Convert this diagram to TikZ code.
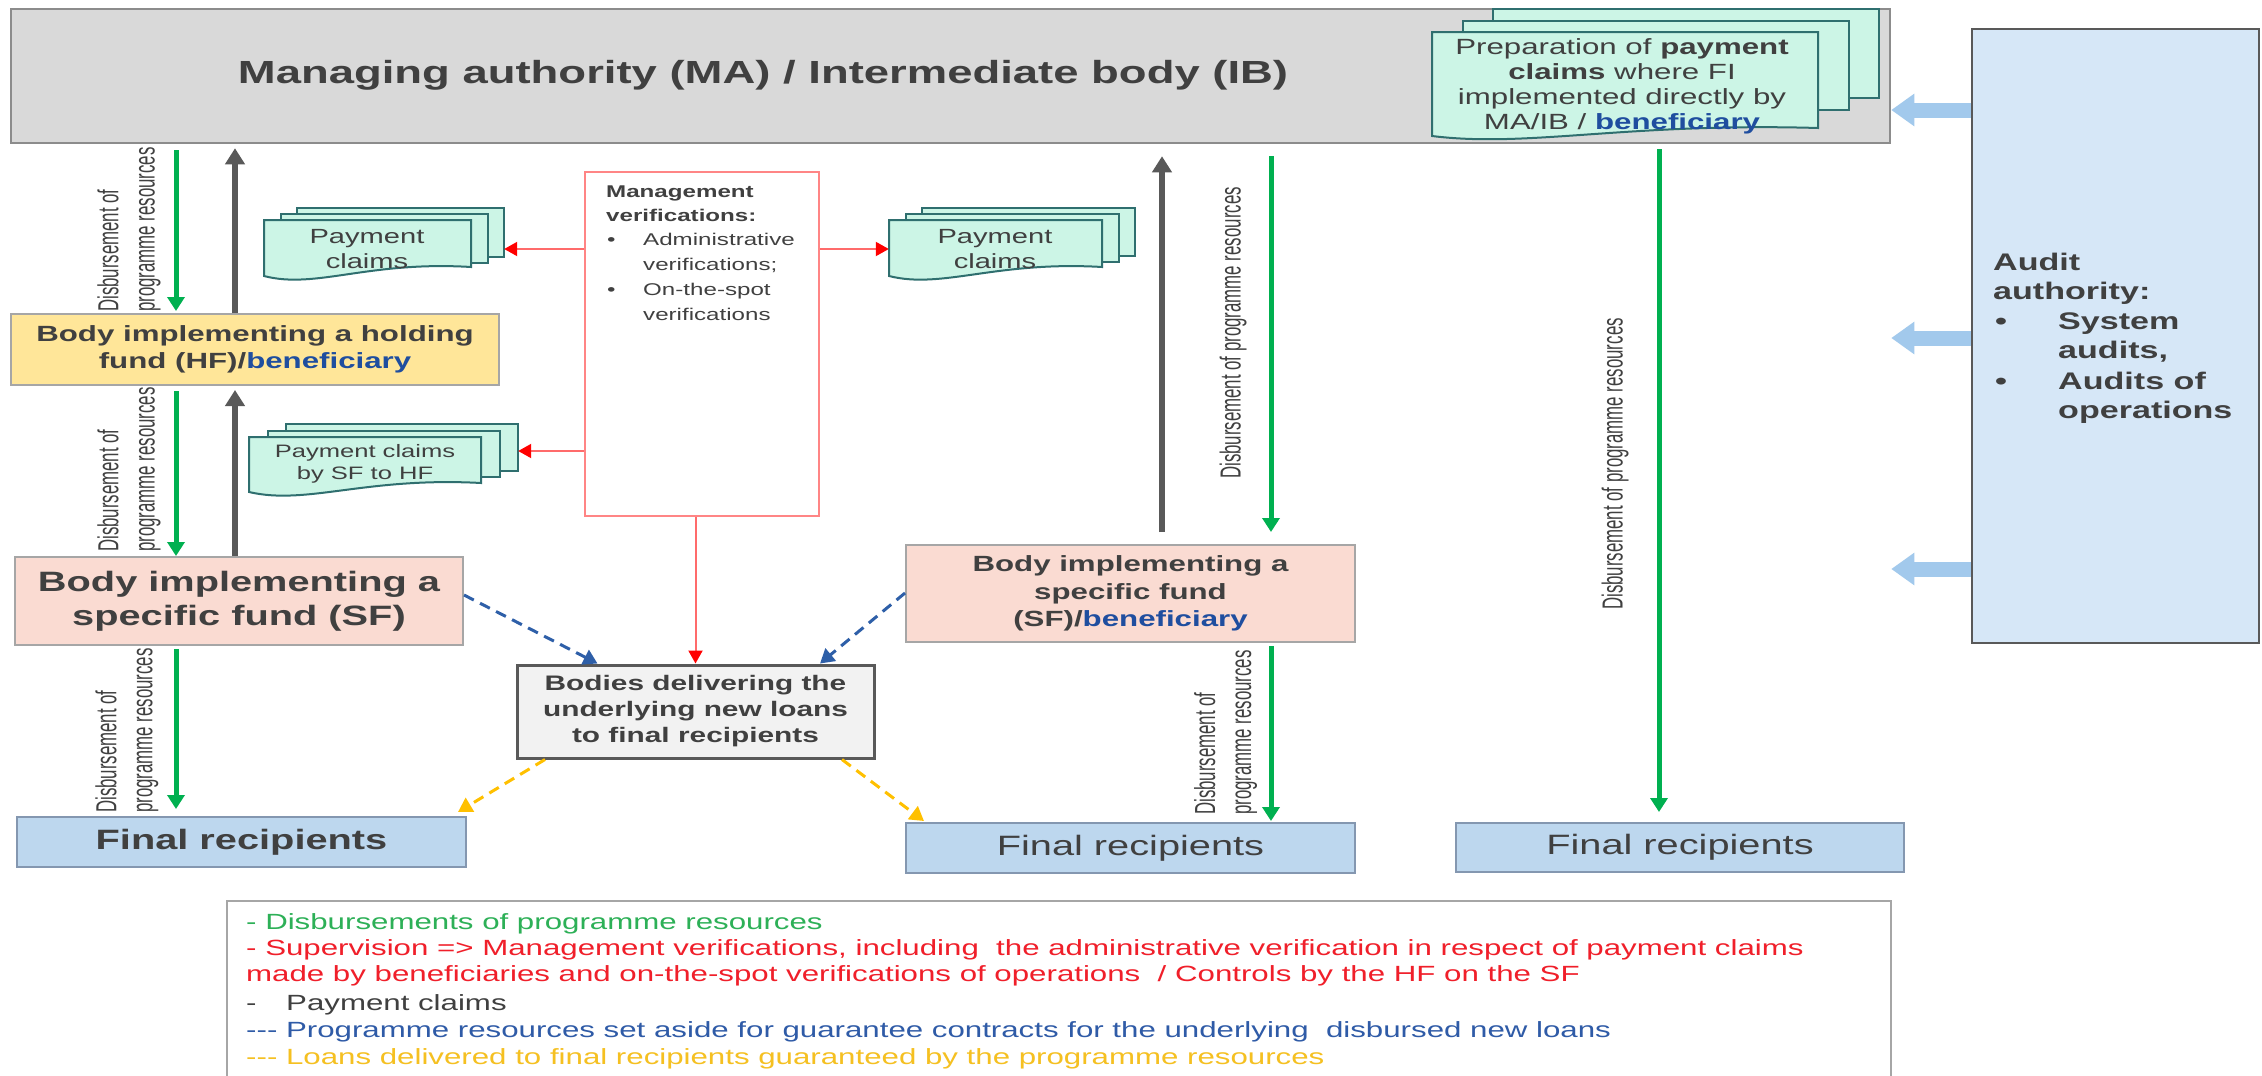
\documentclass[tikz,border=0pt]{standalone}
\usepackage{fontspec}
\setmainfont{Liberation Sans}[FakeStretch=1.42]
\newfontfamily\rotfont{Liberation Sans}[FakeStretch=0.58]
\usetikzlibrary{arrows.meta,fit}
\definecolor{tg}{HTML}{404040}
\definecolor{magray}{HTML}{D9D9D9}
\definecolor{maedge}{HTML}{8C8C8C}
\definecolor{hfyel}{HTML}{FFE699}
\definecolor{boxedge}{HTML}{A6A6A6}
\definecolor{sfpink}{HTML}{FADBD2}
\definecolor{frblue}{HTML}{BDD7EE}
\definecolor{fredge}{HTML}{8497B0}
\definecolor{bodgray}{HTML}{F2F2F2}
\definecolor{bodedge}{HTML}{595959}
\definecolor{mgvred}{HTML}{FF8585}
\definecolor{aublue}{HTML}{D6E7F7}
\definecolor{legedge}{HTML}{A6A6A6}
\definecolor{pcedge}{HTML}{2F6F6F}
\definecolor{pcfill}{HTML}{CCF5E6}
\definecolor{garrow}{HTML}{00B050}
\definecolor{karrow}{HTML}{595959}
\definecolor{rline}{HTML}{FF6B6B}
\definecolor{rhead}{HTML}{FF0000}
\definecolor{bdashc}{HTML}{2E5FA8}
\definecolor{ydashc}{HTML}{FFC000}
\definecolor{aarrow}{HTML}{A2C9EC}
\definecolor{benblue}{HTML}{1F4E9F}
\definecolor{lgreen}{HTML}{2DB057}
\definecolor{lred}{HTML}{F01F2A}
\definecolor{lblue}{HTML}{2F5BA7}
\definecolor{lyellow}{HTML}{F5C021}
\newcommand{\setfs}[2]{\fontsize{#1}{#2}\selectfont}
% #1 name, #2 left, #3 top, #4 width, #5 front height, #6 back height, #7 dx, #8 dy, #9 wave
\newcommand{\pcstack}[9]{%
  \draw[pcsheet] ({#2+2*#7},{#3-2*#8}) rectangle ({#2+2*#7+#4},{#3-2*#8+#6});
  \draw[pcsheet] ({#2+#7},{#3-#8}) rectangle ({#2+#7+#4},{#3-#8+#6});
  \draw[pcsheet] (#2,#3) -- ({#2+#4},#3) -- ({#2+#4},{#3+#5})
     .. controls ({#2+0.5*#4},{#3+#5-0.7*#9}) and ({#2+0.25*#4},{#3+#5+2.5*#9}) .. ({#2},{#3+#5+#9}) -- cycle;
  \coordinate (#1nw) at ({#2},{#3-2*#8});
  \coordinate (#1se) at ({#2+2*#7+#4},{#3+#5+#9});
  \node[fit=(#1nw)(#1se), inner sep=0pt] (#1) {};
}
\tikzset{
 bx/.style={draw, rectangle, inner sep=0pt, align=center, text=tg},
 mabox/.style={bx, fill=magray, draw=maedge, line width=2.5pt},
 hfbox/.style={bx, fill=hfyel, draw=boxedge, line width=2pt},
 sfbox/.style={bx, fill=sfpink, draw=boxedge, line width=2pt},
 frbox/.style={bx, fill=frblue, draw=fredge, line width=2pt},
 bodbox/.style={bx, fill=bodgray, draw=bodedge, line width=3pt},
 mgvbox/.style={bx, fill=white, draw=mgvred, line width=2pt},
 aubox/.style={bx, fill=aublue, draw=bodedge, line width=2.5pt},
 legbox/.style={draw=legedge, line width=2pt, fill=white, inner sep=0pt},
 pcsheet/.style={draw=pcedge, fill=pcfill, line width=2pt},
 garr/.style={draw=garrow, line width=5pt, -{Triangle[width=17pt,length=14pt]}},
 karr/.style={draw=karrow, line width=5.5pt, -{Triangle[width=19pt,length=16pt]}},
 rarr/.style={draw=rline, line width=2pt, -{Triangle[width=14pt,length=13pt,color=rhead]}},
 bdash/.style={draw=bdashc, line width=3pt, dash pattern=on 11pt off 7pt, -{Triangle[width=16pt,length=14pt]}},
 ydash/.style={draw=ydashc, line width=3pt, dash pattern=on 11pt off 7pt, -{Triangle[width=16pt,length=14pt]}},
 aarr/.style={draw=aarrow, line width=15pt, -{Triangle[width=31pt,length=23pt]}},
 rot/.style={rotate=90, inner sep=0pt, align=left, text=tg, font=\rotfont\setfs{29}{36}},
 txt/.style={inner sep=0pt, text=tg, anchor=base west},
 mgt/.style={txt, font=\setfs{17}{24.5}},
 aut/.style={txt, font=\setfs{24}{29.5}\bfseries},
 lgt/.style={inner sep=0pt, anchor=base west, font=\setfs{22}{27}},
}
\begin{document}
\begin{tikzpicture}[x=1pt,y=-1pt]
\useasboundingbox (0,0) rectangle (2262,1076);
\fill[white] (0,0) rectangle (2262,1076);

% Managing authority
\node[mabox, minimum width=1879pt, minimum height=134pt] (MA) at (950.5,76) {};
\node[inner sep=0pt, text=tg, font=\setfs{32}{38}\bfseries] (MAt) at (763,75) {Managing authority (MA) / Intermediate body (IB)};

% top-right payment claims
\pcstack{PCT}{1432}{32}{386}{96}{89}{30.5}{11.5}{8}
\node[inner sep=0pt, text=tg, align=center, font=\setfs{22}{25}] (PCTt) at (1622,86) {Preparation of \textbf{payment}\\\textbf{claims} where FI\\implemented directly by\\MA/IB / \textcolor{benblue}{\textbf{beneficiary}}};

% Audit authority
\node[aubox, minimum width=287pt, minimum height=614pt] (AU) at (2115.5,336) {};
\node[aut] (au1) at (1993,270) {Audit};
\node[aut] (au2) at (1993,299) {authority:};
\node[aut] (au3b) at (1995,329) {•};
\node[aut] (au3) at (2058,329) {System};
\node[aut] (au4) at (2058,358.5) {audits,};
\node[aut] (au5b) at (1995,389) {•};
\node[aut] (au5) at (2058,389) {Audits of};
\node[aut] (au6) at (2058,418.5) {operations};
\coordinate (a1s) at ([yshift=226pt]AU.west);
\coordinate (a2s) at ([yshift=-2pt]AU.west);
\coordinate (a3s) at ([yshift=-233pt]AU.west);
\draw[aarr] (a1s) -- (a1s -| MA.east);
\draw[aarr] (a2s) -- (a2s -| MA.east);
\draw[aarr] (a3s) -- (a3s -| MA.east);

% left column boxes
\node[hfbox, minimum width=488pt, minimum height=71pt, font=\setfs{22}{26.5}\bfseries] (HF) at (255,349.5) {Body implementing a holding\\fund (HF)/\textcolor{benblue}{beneficiary}};
\node[sfbox, minimum width=448pt, minimum height=88pt, font=\setfs{28}{34}\bfseries] (SFL) at (239,601) {Body implementing a\\specific fund (SF)};
\node[frbox, minimum width=449pt, minimum height=50pt, font=\setfs{28}{34}\bfseries] (FRL) at (241.5,842) {Final recipients};

% payment claim stacks
\pcstack{PCL}{264}{220}{207}{47}{48.5}{16.5}{6}{9}
\node[inner sep=0pt, text=tg, align=center, font=\setfs{20.5}{25}] (PCLt) at (367,249.5) {Payment\\claims};
\pcstack{PCM}{889}{220}{213}{47}{48}{16.5}{6}{9}
\node[inner sep=0pt, text=tg, align=center, font=\setfs{20.5}{25}] (PCMt) at (995,249.5) {Payment\\claims};
\pcstack{PCS}{249}{437}{232}{46}{46.5}{18.5}{6.5}{9}
\node[inner sep=0pt, text=tg, align=center, font=\setfs{18}{22}] (PCSt) at (365,464) {Payment claims\\by SF to HF};

% management verifications
\node[mgvbox, minimum width=234pt, minimum height=344pt] (MGV) at (702,344) {};
\node[mgt] (mg1) at (606,197.5) {\textbf{Management}};
\node[mgt] (mg2) at (606,221.5) {\textbf{verifications:}};
\node[mgt] (mg3b) at (607,245.5) {•};
\node[mgt] (mg3) at (643,245.5) {Administrative};
\node[mgt] (mg4) at (643,270.5) {verifications;};
\node[mgt] (mg5b) at (607,295.5) {•};
\node[mgt] (mg5) at (643,295.5) {On-the-spot};
\node[mgt] (mg6) at (643,320.5) {verifications};

% middle boxes
\node[bodbox, minimum width=357pt, minimum height=93pt, font=\setfs{21}{26}\bfseries] (BOD) at (695.5,711.5) {Bodies delivering the\\underlying new loans\\to final recipients};
\node[sfbox, minimum width=449pt, minimum height=97pt, font=\setfs{22}{27.5}\bfseries] (SFR) at (1130.5,593.5) {Body implementing a\\specific fund\\(SF)/\textcolor{benblue}{beneficiary}};
\node[frbox, minimum width=449pt, minimum height=50pt, font=\setfs{28}{34}] (FRM) at (1130.5,848) {Final recipients};
\node[frbox, minimum width=448pt, minimum height=49pt, font=\setfs{28}{34}] (FRR) at (1680,847.5) {Final recipients};

% red supervision arrows
\coordinate (m1) at ([yshift=95pt]MGV.west);
\coordinate (m2) at ([yshift=95pt]MGV.east);
\coordinate (m3) at ([yshift=-107pt]MGV.west);
\draw[rarr] (m1) -- (m1 -| PCL.east);
\draw[rarr] (m2) -- (m2 -| PCM.west);
\draw[rarr] (m3) -- (m3 -| PCS.east);
\draw[rarr] (MGV.south -| BOD.north) -- (BOD.north);

% vertical arrows
\coordinate (xg) at (176,0);
\coordinate (xk) at (235,0);
\coordinate (xk2) at (1162,0);
\coordinate (xg2) at (1271,0);
\coordinate (xg3) at (1659,0);
\draw[garr, shorten <=6pt, shorten >=2pt] (MA.south -| xg) -- (HF.north -| xg);
\draw[karr, shorten >=4pt] (HF.north -| xk) -- (MA.south -| xk);
\draw[garr, shorten <=5pt] (HF.south -| xg) -- (SFL.north -| xg);
\draw[karr, shorten >=4pt] (SFL.north -| xk) -- (HF.south -| xk);
\draw[garr, shorten <=3pt, shorten >=7pt] (SFL.south -| xg) -- (FRL.north -| xg);
\draw[karr, shorten <=12pt, shorten >=12pt] (SFR.north -| xk2) -- (MA.south -| xk2);
\draw[garr, shorten <=12pt, shorten >=12pt] (MA.south -| xg2) -- (SFR.north -| xg2);
\draw[garr, shorten <=3pt, shorten >=1pt] (SFR.south -| xg2) -- (FRM.north -| xg2);
\draw[garr, shorten <=5pt, shorten >=10pt] (MA.south -| xg3) -- (FRR.north -| xg3);

% dashed arrows
\draw[bdash] ([yshift=6pt]SFL.east) -- ([xshift=-98pt]BOD.north);
\draw[bdash] ([yshift=0.5pt]SFR.west) -- ([xshift=124.5pt]BOD.north);
\draw[ydash] ([xshift=-150.5pt]BOD.south) -- ([xshift=-9pt,yshift=4pt]FRL.north east);
\draw[ydash] ([xshift=146.5pt]BOD.south) -- ([xshift=19pt,yshift=1pt]FRM.north west);

% rotated labels
\node[rot, anchor=west] (L1) at (129,312) {Disbursement of\\programme resources};
\node[rot, anchor=west] (L2) at (129,552) {Disbursement of\\programme resources};
\node[rot, anchor=west] (L3) at (127,813) {Disbursement of\\programme resources};
\node[rot] (L4) at (1233,333) {Disbursement of programme resources};
\node[rot, anchor=west] (L5) at (1225.5,815) {Disbursement of\\programme resources};
\node[rot] (L6) at (1615,464) {Disbursement of programme resources};

% legend
\node[legbox, minimum width=1664pt, minimum height=199pt] (LEG) at (1059,1000.5) {};
\node[lgt, text=lgreen] (lg1) at (246,929) {- Disbursements of programme resources};
\node[lgt, text=lred] (lg2) at (246,955) {- Supervision => Management verifications, including\ \ the administrative verification in respect of payment claims};
\node[lgt, text=lred] (lg3) at (246,981) {made by beneficiaries and on-the-spot verifications of operations\ \ / Controls by the HF on the SF};
\node[lgt, text=tg] (lg4a) at (246,1010) {-};
\node[lgt, text=tg] (lg4) at (286,1010) {Payment claims};
\node[lgt, text=lblue] (lg5) at (246,1037) {-{}-{}- Programme resources set aside for guarantee contracts for the underlying\ \ disbursed new loans};
\node[lgt, text=lyellow] (lg6) at (246,1064) {-{}-{}- Loans delivered to final recipients guaranteed by the programme resources};
\end{tikzpicture}
\end{document}
